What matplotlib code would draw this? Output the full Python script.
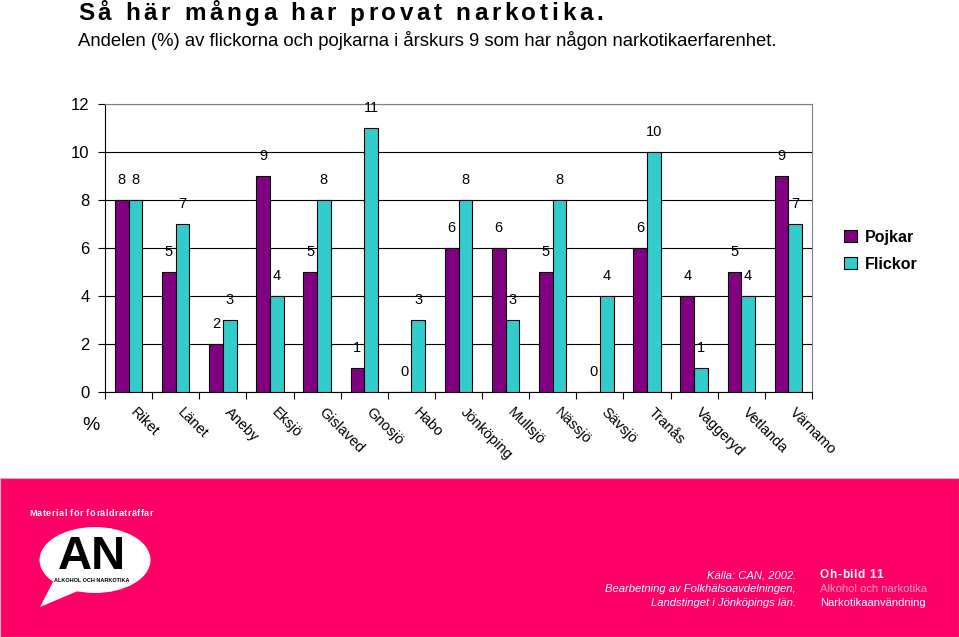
import numpy as np
import matplotlib
matplotlib.use('Agg')
import matplotlib.pyplot as plt
from matplotlib.patches import Rectangle, Ellipse, Polygon

plt.rcParams['font.family'] = ['Liberation Sans', 'DejaVu Sans']

# ── Data ──
kommuner = ['Riket', 'Länet', 'Aneby', 'Eksjö', 'Gislaved', 'Gnosjö', 'Habo',
            'Jönköping', 'Mullsjö', 'Nässjö', 'Sävsjö', 'Tranås', 'Vaggeryd',
            'Vetlanda', 'Värnamo']
pojkar = [8, 5, 2, 9, 5, 1, 0, 6, 6, 5, 0, 6, 4, 5, 9]
flickor = [8, 7, 3, 4, 8, 11, 3, 8, 3, 8, 4, 10, 1, 4, 7]
y_ticks = [0, 2, 4, 6, 8, 10, 12]

PURPLE = '#800080'
CYAN = '#33CCCC'
PINK = '#FF0066'
W, H = 959, 637

fig = plt.figure(figsize=(W / 100, H / 100), dpi=100)
renderer = fig.canvas.get_renderer()


def px(xp, yp):
    """pixel position (from top-left) -> figure fraction"""
    return xp / W, 1 - yp / H


def tracked_text(xp, yp, s, tracking, **kw):
    """draw text letter by letter with extra spacing (pixels)"""
    cur = xp
    for ch in s:
        t = fig.text(*px(cur, yp), ch, ha='left', va='center', **kw)
        if ch == ' ':
            probe = fig.text(0, 0, 'a a', **kw)
            probe2 = fig.text(0, 0, 'aa', **kw)
            wdt = (probe.get_window_extent(renderer).width
                   - probe2.get_window_extent(renderer).width)
            probe.remove()
            probe2.remove()
        else:
            wdt = t.get_window_extent(renderer).width
        cur += wdt + tracking


# ── Title ──
tracked_text(78, 14, 'Så här många har provat narkotika.', 3.6,
             fontsize=17.5, fontweight='bold')
fig.text(*px(78, 40),
         'Andelen (%) av flickorna och pojkarna i årskurs 9 som har någon narkotikaerfarenhet.',
         fontsize=13.3, va='center', ha='left')

# ── Chart ──
ax = fig.add_axes([105 / W, 1 - 392 / H, 707 / W, 288 / H])
x = np.arange(len(kommuner))
w = 0.29
ax.bar(x - w / 2, pojkar, w, color=PURPLE, edgecolor='black', linewidth=0.8,
       label='Pojkar', zorder=3)
ax.bar(x + w / 2, flickor, w, color=CYAN, edgecolor='black', linewidth=0.8,
       label='Flickor', zorder=3)

for i in range(len(kommuner)):
    ax.text(x[i] - w / 2, pojkar[i] + 0.85, str(pojkar[i]), ha='center',
            va='center', fontsize=10.5)
    ax.text(x[i] + w / 2, flickor[i] + 0.85, str(flickor[i]), ha='center',
            va='center', fontsize=10.5)

ax.set_xlim(-0.5, len(kommuner) - 0.5)
ax.set_ylim(0, 12)
ax.set_yticks(y_ticks)
ax.set_yticklabels([str(t) for t in y_ticks], fontsize=12)
ax.yaxis.grid(True, color='black', linewidth=0.8, zorder=0)
ax.set_axisbelow(True)

ax.set_xticks(np.arange(len(kommuner) + 1) - 0.5)
ax.set_xticklabels([])
ax.tick_params(axis='x', length=5, direction='out')
ax.tick_params(axis='y', length=5, direction='out', pad=6)
for i, name in enumerate(kommuner):
    ax.text(x[i] + 0.08, -0.75, name, rotation=-45, rotation_mode='anchor',
            ha='left', va='center', fontsize=10.5)
ax.text(-0.8, -1.4, '%', fontsize=14, ha='center', va='center')

for side in ['top', 'right']:
    ax.spines[side].set_color('#808080')
for side in ['left', 'bottom']:
    ax.spines[side].set_color('black')

leg = ax.legend(loc='center left', bbox_to_anchor=(1.025, 0.49), frameon=False,
                fontsize=11.5, handlelength=0.8, handleheight=0.8,
                handletextpad=0.5, labelspacing=0.75)
for t in leg.get_texts():
    t.set_fontweight('bold')

# ── Bottom banner ──
fig.add_artist(Rectangle((0, 0), 1, 1 - 478 / H, transform=fig.transFigure,
                         facecolor=PINK, edgecolor='#bbbbbb', linewidth=0.8))
tracked_text(29, 513, 'Material för föräldraträffar', 0.4, color='white',
             fontsize=6.6, fontweight='bold')

# speech bubble logo
fig.add_artist(Polygon([px(55, 578), px(40, 607), px(85, 588)], closed=True,
                       transform=fig.transFigure, facecolor='white',
                       edgecolor='none'))
fig.add_artist(Ellipse(px(95, 560), 111 / W, 66 / H,
                       transform=fig.transFigure, facecolor='white',
                       edgecolor='none'))
fig.text(*px(92, 557), 'AN', fontsize=34, fontweight='bold',
         ha='center', va='center', color='black')
fig.text(*px(92, 581), 'ALKOHOL OCH NARKOTIKA', fontsize=4,
         fontweight='bold', ha='center', va='center', color='black')

src = ['Källa: CAN, 2002.', 'Bearbetning av Folkhälsoavdelningen,',
       'Landstinget i Jönköpings län.']
for k, line in enumerate(src):
    fig.text(*px(796, 575 + 14 * k), line, color='white',
             fontsize=8.1, style='italic', ha='right', va='center')
tracked_text(820, 575, 'Oh-bild 11', 0.5, color='white', fontsize=8.5,
             fontweight='bold')
fig.text(*px(820, 589), 'Alkohol och narkotika', color='#FF99BB',
         fontsize=8.1, ha='left', va='center')
fig.text(*px(820, 603), 'Narkotikaanvändning', color='white',
         fontsize=8.1, ha='left', va='center')

fig.savefig('out.png', dpi=100)
